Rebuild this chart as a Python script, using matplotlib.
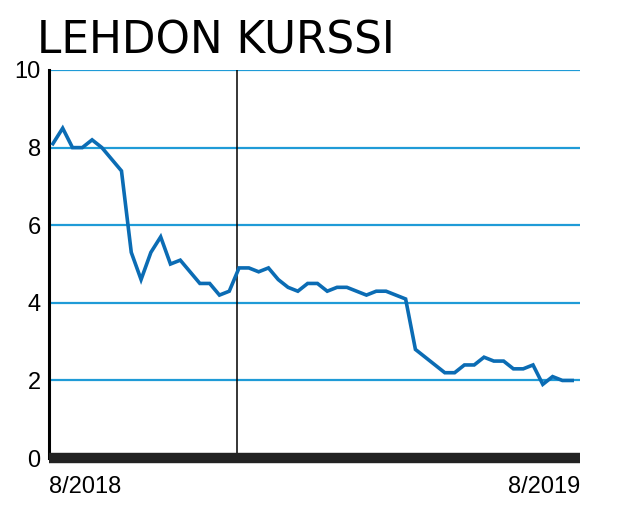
import matplotlib.pyplot as plt

# viikkokurssi, elokuu 2018 - elokuu 2019
weeks = list(range(54))
price = [8.1, 8.5, 8.0, 8.0, 8.2, 8.0, 7.7, 7.4, 5.3, 4.6,
         5.3, 5.7, 5.0, 5.1, 4.8, 4.5, 4.5, 4.2, 4.3, 4.9,
         4.9, 4.8, 4.9, 4.6, 4.4, 4.3, 4.5, 4.5, 4.3, 4.4,
         4.4, 4.3, 4.2, 4.3, 4.3, 4.2, 4.1, 2.8, 2.6, 2.4,
         2.2, 2.2, 2.4, 2.4, 2.6, 2.5, 2.5, 2.3, 2.3, 2.4,
         1.9, 2.1, 2.0, 2.0]
marker_week = 18.75
y_ticks = [0, 2, 4, 6, 8, 10]
x_labels = ["8/2018", "8/2019"]
title = "LEHDON KURSSI"

plt.rcParams['font.family'] = ['Liberation Sans', 'DejaVu Sans']

fig = plt.figure(figsize=(6.36, 5.09), dpi=100)
ax = fig.add_axes([0.077, 0.100, 0.835, 0.7625])

for y in y_ticks[1:]:
    ax.axhline(y, color='#1f9bd7', linewidth=1.6, zorder=1)

ax.axvline(marker_week, color='black', linewidth=1.1, zorder=2)
ax.plot(weeks, price, color='#0b6cb4', linewidth=2.6, zorder=3,
        solid_joinstyle='miter')

ax.set_xlim(-0.4, 53.8)
ax.set_ylim(0, 10)
ax.set_yticks(y_ticks)
ax.set_yticklabels([str(v) for v in y_ticks], fontsize=17)
ax.tick_params(axis='y', length=0, pad=6)
ax.set_xticks([])

for side in ['top', 'right']:
    ax.spines[side].set_visible(False)
ax.spines['left'].set_linewidth(2.2)
ax.spines['bottom'].set_linewidth(7.5)
ax.spines['bottom'].set_color('#222222')
ax.spines['bottom'].set_capstyle('butt')

ax.text(0.0, -0.045, x_labels[0], transform=ax.transAxes, fontsize=17,
        ha='left', va='top')
ax.text(1.0, -0.045, x_labels[1], transform=ax.transAxes, fontsize=17,
        ha='right', va='top')

fig.text(0.058, 0.962, title, fontsize=31.5, ha='left', va='top',
         family=['DejaVu Sans'])

fig.savefig('out.png', dpi=100)
